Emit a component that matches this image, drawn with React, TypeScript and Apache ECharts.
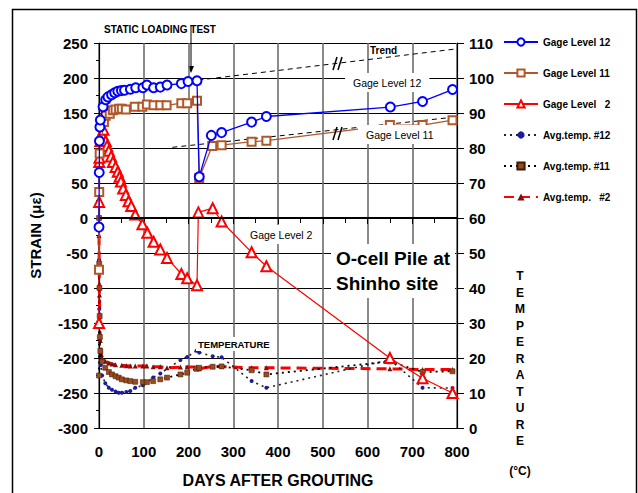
import React, { useEffect, useRef } from "react";
import * as echarts from "echarts";

type P = [number, number];

// Strain (µε) vs days
const gage12: P[] = [
  [0, -13], [0.5, 65], [1, 110], [2, 130], [3, 140], [9, 159], [15, 169], [20, 173], [28, 176],
  [35, 179], [42, 181], [50, 182], [57, 182.5], [70, 184], [82, 186], [98, 186], [107, 190],
  [122, 186], [137, 187], [152, 190], [184, 192], [199, 195], [219, 196], [224, 59], [251, 118],
  [274, 122], [341, 137], [374, 145], [651, 158.5], [723, 166.5], [790, 183.5],
];
const gage11: P[] = [
  [0, -74], [0.5, 37], [1.5, 92], [11, 137], [15, 146], [24, 149], [31, 154], [37, 155], [45, 156],
  [51, 156], [60, 155], [80, 159], [97, 159], [107, 162], [122, 161], [137, 161], [151, 161],
  [184, 164], [197, 164], [219, 167.5], [224, 57], [253, 103], [274, 104], [341, 109], [374, 110.5],
  [650, 132.7], [723, 132.7], [790, 139.7],
];
const gage2: P[] = [
  [0, -150], [0.3, 23], [0.6, 80], [1, 86], [3, 110], [6, 120], [10, 126], [15, 110], [18, 103],
  [22, 96], [27, 88], [31, 80], [37, 73], [42, 66], [46, 59], [49, 52], [54, 42], [60, 33],
  [66, 24], [72, 17], [81, 5], [97, -9], [108, -21], [122, -34], [137, -45], [152, -57],
  [184, -80], [197, -86], [219, -96], [222, 8], [254, 14], [274, -5], [341, -49], [374, -69],
  [650, -200], [723, -229], [790, -250],
];
// Temperature (°C) vs days
const temp12: P[] = [
  [0, 48], [0.3, 40], [0.6, 34], [1, 30], [1.5, 26], [2, 22], [4, 18], [7, 15], [14, 12.8],
  [22, 11.5], [29, 10.9], [37, 10.4], [44, 10.1], [51, 10.1], [61, 10.3], [70, 10.6], [81, 11.5],
  [98, 12.2], [121, 14.4], [137, 15.6], [182, 19.4], [197, 20.3], [218, 22.1], [224, 21.6],
  [254, 20.5], [274, 20.2], [341, 13.4], [374, 11.5], [650, 19.5], [723, 11.5], [790, 11.4],
];
const temp11: P[] = [
  [0, 15], [0.2, 60], [0.5, 47], [1, 40], [1.5, 32], [2, 26], [3, 22], [7, 19], [14, 17.2],
  [22, 16], [29, 15.3], [37, 14.8], [44, 14.4], [51, 13.9], [61, 13.6], [70, 13.4], [81, 13.2],
  [98, 13.1], [107, 13.1], [121, 13.4], [137, 13.9], [152, 14.4], [182, 15.3], [197, 15.8],
  [218, 16.9], [224, 17.2], [254, 17.5], [274, 17.6], [341, 16.5], [374, 15.3], [650, 19],
  [723, 16], [790, 16.2],
];
const temp2: P[] = [
  [0, 55], [0.5, 45], [1, 38], [2, 30], [3, 25], [5, 21], [7, 20], [14, 19.1], [22, 18.6],
  [29, 18.3], [37, 18.1], [51, 17.9], [61, 17.8], [70, 17.7], [81, 17.7], [98, 17.7], [107, 17.7],
  [121, 17.5], [137, 17.5], [152, 17.2], [182, 17.4], [197, 17.4], [218, 17.4], [224, 16.9],
  [254, 17.6], [274, 17.6], [341, 17.2], [374, 17.2], [650, 16.9], [723, 16.7], [790, 16.7],
];
// Trend lines (strain)
const trend12: P[] = [[222, 197], [830, 244]];
const trend11: P[] = [[164, 101], [807, 145]];

const legendNames = [
  "Gage Level 12", "Gage Level 11", "Gage Level   2",
  "Avg.temp. #12", "Avg.temp. #11", "Avg.temp.   #2",
];
const tempLetters = ["T", "E", "M", "P", "E", "R", "A", "T", "U", "R", "E"];

const FONT = 'Arial, "Liberation Sans", sans-serif';

export default function App() {
  const ref = useRef<HTMLDivElement>(null);
  useEffect(() => {
    if (!ref.current) return;
    const chart = echarts.init(ref.current, undefined, { renderer: "svg" });
    const lbl = { fontFamily: FONT, fontWeight: "bold" as const, fontSize: 15, color: "#000" };
    const boxText = (x: number, y: number, text: string, size: number, bold: boolean, pad: number[] = [4, 6]) => ({
      type: "text", left: x, top: y, z: 50,
      style: {
        text, fontFamily: FONT, fontSize: size, fontWeight: bold ? "bold" : "normal", fill: "#000",
        backgroundColor: "#fff", padding: pad,
      },
    });
    const graphics: any[] = [
      { type: "rect", shape: { x: 12.5, y: 9.5, width: 624, height: 520 }, style: { fill: "none", stroke: "#000", lineWidth: 1.5 }, silent: true },
      { type: "text", left: 104, top: 24, style: { text: "STATIC LOADING TEST", fontFamily: FONT, fontSize: 10, fontWeight: "bold", fill: "#000" } },
      { type: "line", shape: { x1: 191, y1: 25, x2: 191, y2: 68 }, style: { stroke: "#000", lineWidth: 1 } },
      { type: "polygon", shape: { points: [[188, 66], [194, 66], [191, 73]] }, style: { fill: "#000" } },
      { type: "text", left: 370, top: 45, z: 50, style: { text: "Trend", fontFamily: FONT, fontSize: 10, fontWeight: "bold", fill: "#000" } },
      { type: "line", z: 50, shape: { x1: 333, y1: 70, x2: 337, y2: 57 }, style: { stroke: "#000", lineWidth: 1.5 } },
      { type: "line", z: 50, shape: { x1: 338, y1: 70, x2: 342, y2: 57 }, style: { stroke: "#000", lineWidth: 1.5 } },
      { type: "line", z: 50, shape: { x1: 333, y1: 140, x2: 337, y2: 127 }, style: { stroke: "#000", lineWidth: 1.5 } },
      { type: "line", z: 50, shape: { x1: 338, y1: 140, x2: 342, y2: 127 }, style: { stroke: "#000", lineWidth: 1.5 } },
      boxText(345, 73, "Gage Level 12", 10.5, false, [4, 8]),
      boxText(358, 125, "Gage Level 11", 10.5, false, [4, 8]),
      boxText(244, 225, "Gage Level 2", 10.5, false, [4, 6]),
      boxText(196, 337, "TEMPERATURE", 9.5, true, [2, 2]),
      {
        type: "text", left: 331, top: 244, z: 50,
        style: {
          text: "O-cell Pile at\nShinho site", fontFamily: FONT, fontSize: 19, fontWeight: "bold", fill: "#000",
          lineHeight: 25, backgroundColor: "#fff", padding: [2, 5],
        },
      },
      ...tempLetters.map((t, i) => ({
        type: "text", x: 520, y: 276 + i * 16.5,
        style: { text: t, fontFamily: FONT, fontSize: 12, fontWeight: "bold", fill: "#000", align: "center", verticalAlign: "middle" },
      })),
      { type: "text", x: 520, y: 471, style: { text: "(°C)", fontFamily: FONT, fontSize: 12, fontWeight: "bold", fill: "#000", align: "center", verticalAlign: "middle" } },
    ];

    const option: any = {
      animation: false,
      backgroundColor: "#fff",
      grid: { left: 99, right: 181, top: 43, bottom: 60, containLabel: false },
      legend: {
        data: legendNames,
        orient: "vertical",
        left: 503,
        top: 37,
        itemWidth: 34,
        itemHeight: 9,
        itemGap: 21,
        padding: 0,
        textStyle: { fontFamily: FONT, fontWeight: "bold", fontSize: 10, color: "#000", lineHeight: 9 },
      },
      xAxis: {
        type: "value", min: 0, max: 800, interval: 100,
        name: "DAYS AFTER GROUTING", nameLocation: "middle", nameGap: 44,
        nameTextStyle: { ...lbl, fontSize: 16 },
        axisLine: { show: true, lineStyle: { color: "#000", width: 1.2 } },
        axisTick: { show: true, length: 6, lineStyle: { color: "#000" } },
        minorTick: { show: true, splitNumber: 2, length: 5, lineStyle: { color: "#000" } },
        axisLabel: { ...lbl, margin: 16 },
        splitLine: { show: true, lineStyle: { color: "#6e6e6e", width: 1.6 } },
      },
      yAxis: [
        {
          type: "value", min: -300, max: 250, interval: 50,
          name: "STRAIN (με)", nameLocation: "middle", nameGap: 56, nameRotate: 90,
          nameTextStyle: { ...lbl, fontSize: 15 },
          axisLine: { show: true, lineStyle: { color: "#000", width: 1.2 } },
          axisTick: { show: true, length: 5, lineStyle: { color: "#000" } },
          minorTick: { show: true, splitNumber: 2, length: 3, lineStyle: { color: "#000" } },
          axisLabel: { ...lbl, margin: 11 },
          splitLine: { show: true, lineStyle: { color: "#000", width: 1 } },
        },
        {
          type: "value", min: 0, max: 110, interval: 10, position: "right",
          axisLine: { show: true, lineStyle: { color: "#000", width: 1.2 } },
          axisTick: { show: true, length: 7, lineStyle: { color: "#000" } },
          axisLabel: { ...lbl, margin: 12 },
          splitLine: { show: false },
        },
      ],
      series: [
        {
          name: "trend12", type: "line", data: trend12, symbol: "none", clip: false, silent: true,
          lineStyle: { color: "#000", width: 1, type: [5, 4] }, z: 1,
        },
        {
          name: "trend11", type: "line", data: trend11, symbol: "none", clip: false, silent: true,
          lineStyle: { color: "#000", width: 1, type: [5, 4] }, z: 1,
          markLine: {
            silent: true, symbol: "none", label: { show: false },
            lineStyle: { color: "#000", width: 2.2, type: "solid" },
            data: [{ yAxis: 0 }],
          },
        },
        {
          name: "Avg.temp. #12", type: "line", yAxisIndex: 1, data: temp12,
          symbol: "circle", symbolSize: 4, itemStyle: { color: "#1c1c9c" },
          lineStyle: { color: "#222", width: 1.6, type: [2, 4] }, z: 3,
        },
        {
          name: "Avg.temp. #11", type: "line", yAxisIndex: 1, data: temp11,
          symbol: "rect", symbolSize: 5, itemStyle: { color: "#9a4a1c", borderColor: "#3a1a08", borderWidth: 0.5 },
          lineStyle: { color: "#000", width: 1.8, type: [2, 4] }, z: 3,
        },
        {
          name: "Avg.temp.   #2", type: "line", yAxisIndex: 1, data: temp2,
          symbol: "triangle", symbolSize: 5, itemStyle: { color: "#7a1010" },
          lineStyle: { color: "#ff0000", width: 3, type: [10, 6] }, z: 2,
        },
        {
          name: "Gage Level   2", type: "line", data: gage2,
          symbol: "emptyTriangle", symbolSize: 10,
          itemStyle: { color: "#ff0000", borderWidth: 1.2 },
          lineStyle: { color: "#ff0000", width: 1.2 }, z: 4,
        },
        {
          name: "Gage Level 11", type: "line", data: gage11,
          symbol: "emptyRect", symbolSize: 8,
          itemStyle: { color: "#b0582a", borderWidth: 1.2 },
          lineStyle: { color: "#b0582a", width: 1.3 }, z: 5,
        },
        {
          name: "Gage Level 12", type: "line", data: gage12,
          symbol: "emptyCircle", symbolSize: 9,
          itemStyle: { color: "#0000ff", borderWidth: 1.2 },
          lineStyle: { color: "#0000ff", width: 1.3 }, z: 6,
        },
      ],
      graphic: graphics,
    };
    chart.setOption(option);
    return () => chart.dispose();
  }, []);
  return <div ref={ref} style={{ position: "absolute", left: 0, top: 0, width: 638, height: 493 }} />;
}
